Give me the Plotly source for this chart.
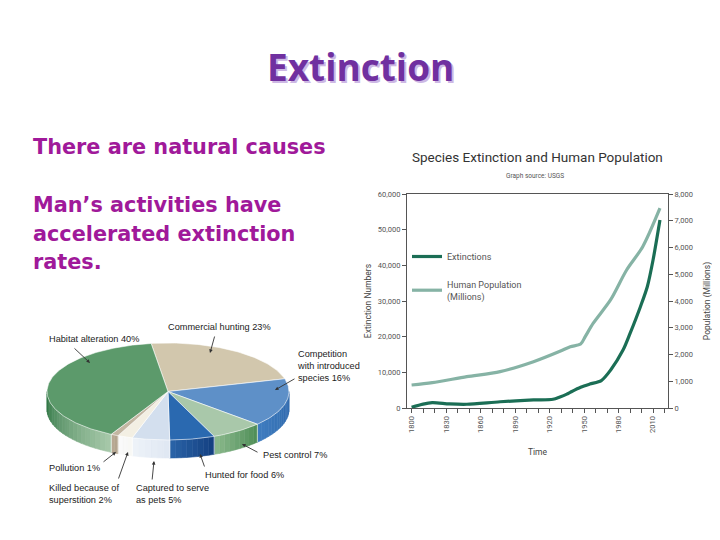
import math
import plotly.graph_objects as go

# ---------------- data ----------------
ext_years = [1800, 1810, 1818, 1833, 1848, 1877, 1906, 1923, 1929, 1935, 1938,
             1947, 1955, 1965, 1973, 1984, 1990, 1999, 2005, 2010, 2016]
ext_vals = [200, 1100, 1500, 1150, 1050, 1750, 2250, 2450, 3100, 3900, 4400,
            5800, 6700, 7700, 10600, 16300, 20900, 28400, 34000, 41500, 52700]

pop_years = [1800, 1818, 1848, 1877, 1906, 1929, 1938, 1947, 1951, 1958, 1973,
             1987, 2001, 2016]
pop_vals = [860, 950, 1170, 1360, 1730, 2120, 2290, 2390, 2670, 3170, 4040,
            5160, 6030, 7470]

year_ticks = [1800, 1830, 1860, 1890, 1920, 1950, 1980, 2010]

causes = ["Commercial hunting", "Competition with introduced species",
          "Pest control", "Hunted for food", "Captured to serve as pets",
          "Killed because of superstition", "Pollution", "Habitat alteration"]
shares = [23, 16, 7, 6, 5, 2, 1, 40]
cause_labels = ["Commercial hunting 23%",
                "Competition<br>with introduced<br>species 16%",
                "Pest control 7%", "Hunted for food 6%",
                "Captured to serve<br>as pets 5%",
                "Killed because of<br>superstition 2%",
                "Pollution 1%", "Habitat alteration 40%"]

body_lines = ["There are natural causes", "Man’s activities have",
              "accelerated extinction", "rates."]

# ---------------- styles ----------------
OFF = 8                      # page body margin of the html page
W, H = 720 - OFF, 540 - OFF  # figure size so that it fits the window
top_colors = ["#d2c7ad", "#5e90c8", "#a9c8aa", "#2a69b0", "#d3dfee",
              "#f3efe3", "#c3b6a2", "#5c9a6b"]
side_colors = [("#b8ab90", "#b8ab90"), ("#2f68aa", "#3f7cc0"),
               ("#4d8c55", "#8cba8e"), ("#143f80", "#2a64a8"),
               ("#dfe7f2", "#eef3f9"), ("#f7f7f4", "#fbfbfb"),
               ("#b3a38d", "#b9aa95"), ("#a8c9aa", "#2c7442")]
# pie geometry (screen pixels)
CX, CY, RX, RY, DEPTH, START = 168, 391.5, 121, 48.5, 18, 98

label_pos = [(166, 327), (295, 366), (261, 455), (203, 475),
             (134, 494), (47, 494), (47, 468), (47, 339)]
arrow_tail = [(215, 335), (296, 378), (259, 453), (205, 468),
              (152, 481), (118, 480), (102, 463), (73, 347)]
arrow_head = [(210, 353), (275, 390), (242, 444), (200, 454),
              (154, 461), (128, 452), (116, 452), (90, 363)]
body_y = [147, 205, 234, 262]

EXT_COLOR = "#1b6e55"
POP_COLOR = "#86b3a5"
NARROW = "Roboto, sans-serif"


def px(x):
    return (x - OFF) / W


def py(y):
    return 1 - (y - OFF) / H


def hex2rgb(h):
    h = h.lstrip("#")
    return tuple(int(h[i:i + 2], 16) for i in (0, 2, 4))


def lerp(c1, c2, f):
    a, b = hex2rgb(c1), hex2rgb(c2)
    return "rgb(%d,%d,%d)" % tuple(round(a[i] + (b[i] - a[i]) * f) for i in range(3))


def ell(t):
    r = math.radians(t)
    return CX + RX * math.cos(r), CY - RY * math.sin(r)


fig = go.Figure()

# ---------------- pie (pseudo 3D, from shares) ----------------
total = sum(shares)
bounds = []
a = START
for s in shares:
    b = a - 360 * s / total
    bounds.append((a, b))
    a = b

for i, (a0, a1) in enumerate(bounds):
    s0, s1 = min(a0, 0), max(a1, -180)
    if s0 <= s1:
        continue
    n = max(1, int(math.ceil((s0 - s1) / 3)))
    for k in range(n):
        t0 = s0 - (s0 - s1) * k / n
        t1 = s0 - (s0 - s1) * (k + 1) / n
        f = (k + 0.5) / n
        col = lerp(side_colors[i][0], side_colors[i][1], f)
        ts = [t0 + (t1 - t0) * j / 4 for j in range(5)]
        xs = [ell(t)[0] for t in ts] + [ell(t)[0] for t in reversed(ts)]
        ys = [ell(t)[1] for t in ts] + [ell(t)[1] + DEPTH for t in reversed(ts)]
        fig.add_trace(go.Scatter(x=xs + [xs[0]], y=ys + [ys[0]], mode="lines",
                                 fill="toself", fillcolor=col,
                                 line=dict(color=col, width=0.6),
                                 xaxis="x3", yaxis="y3", hoverinfo="skip",
                                 showlegend=False))
    for t in (a0, a1):
        if -180 < t < 0:
            x0, y0 = ell(t)
            fig.add_trace(go.Scatter(x=[x0, x0], y=[y0, y0 + DEPTH], mode="lines",
                                     line=dict(color="rgba(255,255,255,0.7)", width=0.8),
                                     xaxis="x3", yaxis="y3", hoverinfo="skip",
                                     showlegend=False))

for i, (a0, a1) in enumerate(bounds):
    n = max(2, int(math.ceil((a0 - a1) / 1.0)))
    pts = [ell(a0 - (a0 - a1) * j / n) for j in range(n + 1)]
    xs = [CX] + [p[0] for p in pts] + [CX]
    ys = [CY] + [p[1] for p in pts] + [CY]
    fig.add_trace(go.Scatter(x=xs, y=ys, mode="lines", fill="toself",
                             fillcolor=top_colors[i],
                             line=dict(color="rgba(255,255,255,0.8)", width=0.7),
                             xaxis="x3", yaxis="y3", hoverinfo="text",
                             text=f"{causes[i]} {shares[i]}%", showlegend=False))

# ---------------- line chart ----------------
fig.add_trace(go.Scatter(x=ext_years, y=ext_vals, mode="lines", name="Extinctions",
                         legendgroup="a",
                         line=dict(color=EXT_COLOR, width=3.2, shape="spline",
                                   smoothing=0.8),
                         xaxis="x", yaxis="y"))
fig.add_trace(go.Scatter(x=pop_years, y=pop_vals, mode="lines",
                         name="Human Population<br>(Millions)", legendgroup="b",
                         line=dict(color=POP_COLOR, width=3.2, shape="spline",
                                   smoothing=0.8),
                         xaxis="x", yaxis="y2"))

axis_font = dict(family=NARROW, size=7.5, color="#555555")
title_font = dict(family=NARROW, size=8.5, color="#444444")
fig.update_layout(
    width=W, height=H,
    margin=dict(l=0, r=0, t=0, b=0, autoexpand=False),
    paper_bgcolor="white", plot_bgcolor="white",
    showlegend=True,
    legend=dict(x=px(407), y=py(242), xanchor="left", yanchor="top",
                bgcolor="rgba(0,0,0,0)", font=dict(family=NARROW, size=9, color="#555555"),
                itemwidth=30, tracegroupgap=11),
    xaxis=dict(domain=[px(407), px(668)], range=[1796, 2023], anchor="y",
               automargin=False,
               tickvals=year_ticks, tickangle=-90, ticks="outside", ticklen=4,
               tickcolor="#555555",
               minor=dict(dtick=10, tick0=1800, ticks="outside", ticklen=4,
                          tickcolor="#555555"),
               showline=True, linecolor="#555555", linewidth=1.2, mirror=True,
               showgrid=False, zeroline=False, tickfont=axis_font,
               title=dict(text="Time", font=title_font, standoff=17)),
    yaxis=dict(domain=[py(408), py(194)], range=[0, 60000], dtick=10000,
               automargin=False,
               tickformat=",", anchor="x", ticks="outside", ticklen=4,
               tickcolor="#555555", showline=True, linecolor="#555555", linewidth=1.2,
               showgrid=False, zeroline=False, tickfont=axis_font,
               title=dict(text="Extinction Numbers", font=title_font, standoff=4)),
    yaxis2=dict(overlaying="y", side="right", anchor="x", range=[0, 8000],
                automargin=False,
                dtick=1000, tickformat=",", ticks="outside", ticklen=4,
                tickcolor="#555555", showline=True, linecolor="#555555",
                linewidth=1.2, showgrid=False, zeroline=False, tickfont=axis_font,
                title=dict(text="Population (Millions)", font=title_font, standoff=12)),
    xaxis3=dict(domain=[0, px(360)], range=[OFF, 360], anchor="y3", visible=False,
                fixedrange=True, automargin=False),
    yaxis3=dict(domain=[0, 1], range=[540, OFF], anchor="x3", visible=False,
                fixedrange=True, automargin=False),
)

annotations = []
annotations.append(dict(x=px(360), y=py(67), xref="paper", yref="paper",
                        xanchor="center", yanchor="middle",
                        text="<b>Extinction</b>", showarrow=False,
                        font=dict(family="Open Sans", size=37, color="#7030a0",
                                  shadow="2px 2px 0px #cdb8e4")))
body_font = dict(family="DejaVu Sans", size=20.8, color="#a0199a")
for line, yy in zip(body_lines, body_y):
    annotations.append(dict(x=px(31), y=py(yy), xref="paper", yref="paper",
                            xanchor="left", yanchor="middle",
                            text=f"<b>{line}</b>", showarrow=False, font=body_font))
annotations.append(dict(x=px(537), y=py(157), xref="paper", yref="paper",
                        xanchor="center", yanchor="middle",
                        text="Species Extinction and Human Population", showarrow=False,
                        font=dict(family=NARROW, size=13.5, color="#333333")))
annotations.append(dict(x=px(535), y=py(176), xref="paper", yref="paper",
                        xanchor="center", yanchor="middle",
                        text="Graph source: USGS", showarrow=False,
                        font=dict(family=NARROW, size=6.5, color="#555555")))
for i in range(len(causes)):
    lx, ly = label_pos[i]
    annotations.append(dict(x=lx, y=ly, xref="x3", yref="y3", xanchor="left",
                            yanchor="middle", align="left", text=cause_labels[i],
                            showarrow=False,
                            font=dict(family="Liberation Sans", size=9.2, color="#222222")))
    tx, ty = arrow_tail[i]
    hx, hy = arrow_head[i]
    annotations.append(dict(x=hx, y=hy, xref="x3", yref="y3", ax=tx, ay=ty,
                            axref="x3", ayref="y3", text="", showarrow=True,
                            arrowhead=2, arrowsize=0.8, arrowwidth=0.9,
                            arrowcolor="#333333"))
fig.update_layout(annotations=annotations)

fig.write_html("out.html")
